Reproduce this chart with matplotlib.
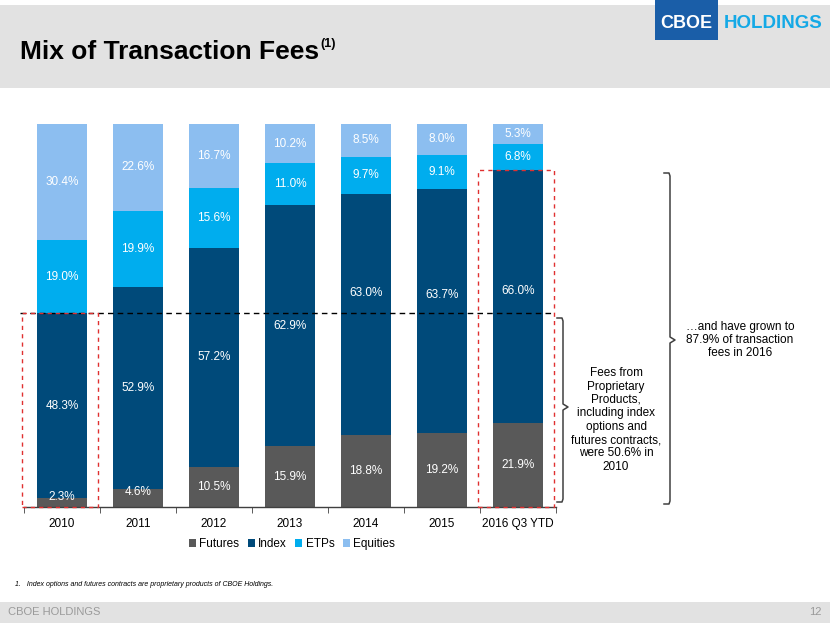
#!/usr/bin/env python3
"""
Mix of transaction fees, stacked 100% bars (CBOE slide recreation).
"""
import matplotlib
matplotlib.use("Agg")
import matplotlib.pyplot as plt
from matplotlib.patches import Rectangle
from matplotlib.lines import Line2D

years = ["2010", "2011", "2012", "2013", "2014", "2015", "2016 Q3 YTD"]
futures = [2.3, 4.6, 10.5, 15.9, 18.8, 19.2, 21.9]
index = [48.3, 52.9, 57.2, 62.9, 63.0, 63.7, 66.0]
etps = [19.0, 19.9, 15.6, 11.0, 9.7, 9.1, 6.8]
equities = [30.4, 22.6, 16.7, 10.2, 8.5, 8.0, 5.3]
series_names = ["Futures", "Index", "ETPs", "Equities"]
prop_2010 = 50.6
prop_2016 = 87.9

colors = ["#595959", "#004a7a", "#00adee", "#8cbef0"]
# the slide nudges a few index labels upward
index_label_shift = [0, 0, 0, 0, 5.7, 4.4, 1.6]

W, H = 830, 623
plt.rcParams["font.family"] = ["Liberation Sans", "DejaVu Sans"]


def fx(x):
    return x / W


def fy(y):
    return 1 - y / H


def main() -> None:
    fig = plt.figure(figsize=(W / 100, H / 100), dpi=100)
    fig.patch.set_facecolor("white")

    # header and footer bands
    fig.patches.append(Rectangle((0, fy(88)), 1, fy(5) - fy(88), transform=fig.transFigure,
                                 facecolor="#e2e2e2", edgecolor="none", zorder=0))
    fig.patches.append(Rectangle((0, 0), 1, fy(602), transform=fig.transFigure,
                                 facecolor="#e2e2e2", edgecolor="none", zorder=0))

    title = fig.text(fx(20), fy(52), "Mix of Transaction Fees", fontsize=19, fontweight="bold",
                     color="black", ha="left", va="center")
    fig.canvas.draw()
    bb = title.get_window_extent()
    fig.text(bb.x1 / W + 0.001, fy(44), "(1)", fontsize=9, fontweight="bold", ha="left", va="center")

    # logo
    fig.patches.append(Rectangle((fx(655), fy(40)), fx(718) - fx(655), fy(0) - fy(40),
                                 transform=fig.transFigure, facecolor="#1a5ea8", edgecolor="none"))
    fig.text(fx(686), fy(24), "CBOE", fontsize=13, fontweight="bold", color="white",
             ha="center", va="center")
    fig.text(fx(773), fy(24), "HOLDINGS", fontsize=13.5, fontweight="bold", color="#14a9e6",
             ha="center", va="center")

    # main chart
    ax = fig.add_axes([fx(24), fy(507), fx(556) - fx(24), fy(124) - fy(507)])
    xs = list(range(len(years)))
    bottoms = [0.0] * len(years)
    for name, vals, col in zip(series_names, [futures, index, etps, equities], colors):
        ax.bar(xs, vals, width=0.66, bottom=bottoms, color=col, label=name, edgecolor="none", zorder=2)
        for x, v, b in zip(xs, vals, bottoms):
            yc = b + v / 2
            if v < 5:
                yc = b + v / 2 + 1.5
            if name == "Index":
                yc += index_label_shift[x]
            ax.text(x, yc, f"{v:.1f}%", ha="center", va="center", color="white", fontsize=8.5, zorder=4)
        bottoms = [b + v for b, v in zip(bottoms, vals)]

    ax.set_xlim(-0.5, len(years) - 0.5)
    ax.set_ylim(0, 100)
    for s in ["top", "right", "left"]:
        ax.spines[s].set_visible(False)
    ax.spines["bottom"].set_color("#404040")
    ax.spines["bottom"].set_linewidth(1.0)
    ax.set_yticks([])
    ax.set_xticks(xs)
    ax.set_xticklabels(years, fontsize=8.5)
    ax.tick_params(axis="x", which="major", length=0, pad=8)
    ax.set_xticks([x - 0.5 for x in range(len(years) + 1)], minor=True)
    ax.tick_params(axis="x", which="minor", length=4, direction="out", color="#404040")
    ax.set_facecolor("none")

    # reference line and highlight boxes
    ax.plot([-0.55, 6.45], [prop_2010, prop_2010], color="black", lw=1.0, ls=(0, (4, 3)),
            clip_on=False, zorder=5)
    ax.add_patch(Rectangle((-0.53, 0), 1.0, prop_2010, fill=False, edgecolor="#e03030", lw=1.0,
                           ls=(0, (3, 3)), clip_on=False, zorder=6))
    ax.add_patch(Rectangle((5.47, 0), 1.0, prop_2016, fill=False, edgecolor="#e03030", lw=1.0,
                           ls=(0, (3, 3)), clip_on=False, zorder=6))

    fig.legend(loc="center", bbox_to_anchor=(fx(292), fy(544)), ncol=4, frameon=False,
               fontsize=8.5, handlelength=0.6, handleheight=0.6, handletextpad=0.3,
               columnspacing=0.7)

    # braces
    def brace(x, top, bot, mid):
        pts = [(x - 6, top), (x - 1, top), (x, top + 3), (x, mid - 3), (x + 5, mid),
               (x, mid + 3), (x, bot - 3), (x - 1, bot), (x - 6, bot)]
        fig.add_artist(Line2D([fx(p[0]) for p in pts], [fy(p[1]) for p in pts],
                              transform=fig.transFigure, color="#404040", lw=1.1))

    brace(563, 318, 502, 407)
    brace(670, 173, 504, 340)

    fig.text(fx(616), fy(420), "Fees from\nProprietary\nProducts,\nincluding index\noptions and\n"
             "futures contracts,\nwere 50.6% in\n2010", ha="center", va="center",
             fontsize=8.5, linespacing=1.15)
    fig.text(fx(740), fy(340), "\u2026and have grown to\n87.9% of transaction\nfees in 2016",
             ha="center", va="center", fontsize=8.5, linespacing=1.15)

    # footnote and footer
    fig.text(fx(15), fy(585), "1.   Index options and futures contracts are proprietary products of CBOE Holdings.",
             fontsize=5, style="italic", ha="left", va="center")
    fig.text(fx(8), fy(612), "CBOE HOLDINGS", fontsize=8, color="#9a9a9a", ha="left", va="center")
    fig.text(fx(822), fy(612), "12", fontsize=8, color="#9a9a9a", ha="right", va="center")

    fig.savefig("out.png", dpi=100)
    plt.close(fig)


if __name__ == "__main__":
    main()
